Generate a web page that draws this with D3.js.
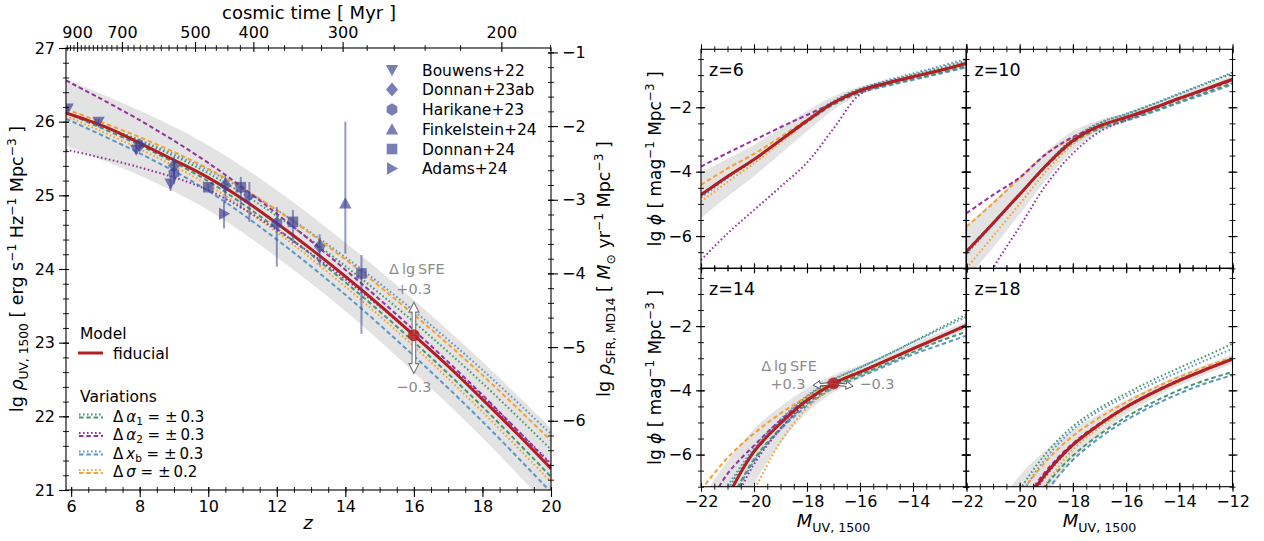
<!DOCTYPE html>
<html><head><meta charset="utf-8">
<script src="https://cdn.jsdelivr.net/npm/d3@7"></script>
<style>
body{margin:0;background:#fff;}
svg text{font-family:"DejaVu Sans",sans-serif;}
</style></head>
<body><svg id="chart" width="1264" height="541"></svg>
<script>
// ================= DATA =================
// Left panel: UV luminosity density vs redshift
const zGrid=[5.85,7,8,9,10,11,12,13,14,15,16,17,18,19,20];
const rhoFiducial=[26.12,25.93,25.71,25.48,25.24,24.95,24.62,24.27,23.90,23.51,23.10,22.68,22.23,21.77,21.29];
const zVar=[5.85,8,10,12,14,16,18,20];
const rhoBandUpper=[26.58,26.15,25.68,25.07,24.36,23.58,22.74,21.84];
const rhoBandLower=[25.67,25.27,24.80,24.16,23.43,22.60,21.71,20.73];
const rhoAlpha1Dashed=[26.12,25.68,25.19,24.55,23.82,23.01,22.13,21.18];
const rhoAlpha1Dotted=[26.12,25.74,25.30,24.72,24.04,23.28,22.45,21.55];
const rhoAlpha2Dashed=[26.56,26.02,25.44,24.75,23.99,23.17,22.29,21.34];
const rhoAlpha2Dotted=[25.62,25.38,25.07,24.53,23.86,23.10,22.27,21.36];
const rhoXbDashed=[26.04,25.57,25.06,24.40,23.65,22.82,21.93,20.97];
const rhoXbDotted=[26.11,25.75,25.34,24.80,24.16,23.43,22.63,21.76];
const rhoSigmaDashed=[26.17,25.79,25.36,24.80,24.13,23.38,22.56,21.67];
const rhoSigmaDotted=[26.08,25.63,25.14,24.50,23.76,22.95,22.06,21.11];

// Observations (z, lg rho_UV, lower err, upper err)
const bouwensZ=[5.9,6.8,7.9,8.9], bouwensRho=[26.18,26.00,25.62,25.16], bouwensLo=[0.04,0.04,0.06,0.10], bouwensHi=[0.04,0.04,0.06,0.10];
const donnan23Z=[8.0,9.0,10.5,13.25], donnan23Rho=[25.68,25.40,25.14,24.31], donnan23Lo=[0.05,0.15,0.25,0.26], donnan23Hi=[0.05,0.12,0.12,0.16];
const harikaneZ=[9.0,12.0], harikaneRho=[25.30,24.62], harikaneLo=[0.15,0.59], harikaneHi=[0.15,0.22];
const finkelsteinZ=[14.0], finkelsteinRho=[24.89], finkelsteinLo=[0.68], finkelsteinHi=[1.11];
const donnan24Z=[10.0,10.95,12.47,14.47], donnan24Rho=[25.11,25.11,24.64,23.94], donnan24Lo=[0.05,0.29,0.29,0.82], donnan24Hi=[0.05,0.14,0.16,0.25];
const adamsZ=[10.46,11.2], adamsRho=[24.75,24.98], adamsLo=[0.20,0.34], adamsHi=[0.16,0.20];
const surveyNames=["Bouwens+22","Donnan+23ab","Harikane+23","Finkelstein+24","Donnan+24","Adams+24"];

// SFE annotation
const sfeZ=16, sfeRho=23.10, sfeRhoUp=23.55, sfeRhoDown=22.58;
const sfeM=-17.0, sfePhi=-3.79, sfeMPlus=-17.77, sfePhiPlus=-3.84, sfeMMinus=-16.26, sfePhiMinus=-3.87;

// Cosmic time axis (Myr)
const timeMajor=[900,700,500,400,300,200];
const timeMinor=[960,940,920,880,860,840,820,800,780,760,740,720,680,660,640,620,600,580,560,540,520,480,460,440,420,380,360,340,320,280,260,240,220,180];

// Right panels: UV luminosity functions, lg phi vs M_UV
const Muv=[-22,-21,-20,-19,-18,-17,-16,-15,-14,-13,-12];
const phi6Fiducial=[-4.72,-4.15,-3.62,-3.02,-2.42,-1.86,-1.48,-1.25,-1.05,-0.86,-0.64];
const phi6BandUpper=[-4.04,-3.60,-3.17,-2.64,-2.12,-1.66,-1.36,-1.15,-0.95,-0.76,-0.54];
const phi6BandLower=[-5.44,-4.77,-4.14,-3.44,-2.75,-2.08,-1.61,-1.35,-1.15,-0.96,-0.74];
const phi6Alpha1Dashed=[-4.72,-4.15,-3.62,-3.03,-2.44,-1.90,-1.53,-1.31,-1.12,-0.93,-0.72];
const phi6Alpha1Dotted=[-4.75,-4.17,-3.63,-3.01,-2.40,-1.83,-1.44,-1.20,-0.99,-0.78,-0.56];
const phi6Alpha2Dashed=[-3.84,-3.42,-3.02,-2.62,-2.24,-1.86,-1.50,-1.26,-1.06,-0.86,-0.65];
const phi6Alpha2Dotted=[-6.74,-5.92,-5.19,-4.47,-3.72,-2.66,-1.60,-1.28,-1.05,-0.85,-0.64];
const phi6XbDashed=[-4.70,-4.14,-3.62,-3.04,-2.46,-1.92,-1.55,-1.34,-1.15,-0.96,-0.76];
const phi6XbDotted=[-4.80,-4.20,-3.63,-3.01,-2.38,-1.80,-1.42,-1.17,-0.95,-0.73,-0.50];
const phi6SigmaDashed=[-4.41,-3.90,-3.45,-2.92,-2.38,-1.85,-1.49,-1.26,-1.05,-0.85,-0.63];
const phi6SigmaDotted=[-4.93,-4.32,-3.74,-3.10,-2.46,-1.88,-1.50,-1.27,-1.07,-0.88,-0.67];

const phi10Fiducial=[-6.48,-5.60,-4.70,-3.80,-3.04,-2.58,-2.31,-2.03,-1.72,-1.43,-1.13];
const phi10BandUpper=[-5.68,-4.92,-4.14,-3.38,-2.74,-2.40,-2.18,-1.91,-1.60,-1.31,-1.01];
const phi10BandLower=[-7.33,-6.36,-5.32,-4.25,-3.34,-2.76,-2.44,-2.15,-1.84,-1.55,-1.25];
const phi10Alpha1Dashed=[-6.47,-5.59,-4.71,-3.82,-3.07,-2.64,-2.39,-2.12,-1.83,-1.54,-1.25];
const phi10Alpha1Dotted=[-6.50,-5.62,-4.72,-3.78,-2.99,-2.50,-2.22,-1.91,-1.59,-1.27,-0.95];
const phi10Alpha2Dashed=[-5.29,-4.72,-4.18,-3.45,-2.92,-2.58,-2.33,-2.05,-1.75,-1.46,-1.17];
const phi10Alpha2Dotted=[-8.60,-7.00,-5.71,-4.40,-3.43,-2.76,-2.40,-2.06,-1.74,-1.44,-1.13];
const phi10XbDashed=[-6.45,-5.58,-4.71,-3.84,-3.10,-2.67,-2.42,-2.15,-1.86,-1.58,-1.29];
const phi10XbDotted=[-6.55,-5.64,-4.72,-3.78,-2.97,-2.48,-2.20,-1.90,-1.57,-1.25,-0.92];
const phi10SigmaDashed=[-5.71,-4.98,-4.20,-3.44,-2.94,-2.58,-2.32,-2.04,-1.74,-1.45,-1.16];
const phi10SigmaDotted=[-7.00,-6.00,-5.00,-3.98,-3.15,-2.66,-2.34,-2.05,-1.74,-1.45,-1.16];

const phi14Fiducial=[-8.80,-7.30,-5.91,-5.03,-4.31,-3.79,-3.43,-3.07,-2.70,-2.34,-1.98];
const phi14BandUpper=[-7.40,-6.20,-5.20,-4.50,-3.94,-3.52,-3.23,-2.91,-2.56,-2.21,-1.86];
const phi14BandLower=[-10.2,-8.50,-6.90,-5.65,-4.68,-4.06,-3.63,-3.23,-2.84,-2.47,-2.10];
const phi14Alpha1Dashed=[-9.00,-7.60,-6.15,-5.18,-4.42,-3.88,-3.52,-3.17,-2.81,-2.47,-2.18];
const phi14Alpha1Dotted=[-8.60,-7.10,-5.86,-4.95,-4.20,-3.67,-3.29,-2.90,-2.49,-2.07,-1.64];
const phi14Alpha2Dashed=[-8.00,-6.60,-5.72,-4.93,-4.29,-3.78,-3.42,-3.07,-2.71,-2.36,-2.01];
const phi14Alpha2Dotted=[-9.50,-7.90,-6.30,-5.20,-4.36,-3.80,-3.43,-3.07,-2.71,-2.35,-1.99];
const phi14XbDashed=[-9.20,-7.70,-6.20,-5.22,-4.48,-3.93,-3.58,-3.23,-2.88,-2.59,-2.30];
const phi14XbDotted=[-8.50,-7.00,-5.80,-4.90,-4.17,-3.65,-3.29,-2.90,-2.50,-2.11,-1.72];
const phi14SigmaDashed=[-7.10,-6.10,-5.34,-4.72,-4.20,-3.75,-3.41,-3.06,-2.70,-2.35,-2.00];
const phi14SigmaDotted=[-10.5,-8.50,-7.10,-5.60,-4.55,-3.90,-3.48,-3.10,-2.73,-2.36,-2.00];

const phi18Fiducial=[-10.6,-9.10,-7.75,-6.58,-5.70,-5.06,-4.52,-4.08,-3.69,-3.35,-3.03];
const phi18BandUpper=[-9.10,-7.80,-6.65,-5.85,-5.22,-4.74,-4.30,-3.90,-3.53,-3.20,-2.88];
const phi18BandLower=[-12.2,-10.5,-8.95,-7.30,-6.15,-5.38,-4.74,-4.26,-3.85,-3.50,-3.18];
const phi18Alpha1Dashed=[-11.2,-9.60,-8.20,-6.95,-6.03,-5.38,-4.83,-4.38,-3.99,-3.68,-3.43];
const phi18Alpha1Dotted=[-10.0,-8.50,-7.10,-5.95,-5.12,-4.55,-4.10,-3.68,-3.30,-2.93,-2.55];
const phi18Alpha2Dashed=[-10.5,-9.00,-7.65,-6.50,-5.65,-5.03,-4.50,-4.06,-3.67,-3.33,-3.01];
const phi18Alpha2Dotted=[-10.8,-9.30,-7.90,-6.65,-5.72,-5.07,-4.53,-4.09,-3.70,-3.36,-3.04];
const phi18XbDashed=[-11.4,-9.80,-8.40,-7.15,-6.17,-5.48,-4.93,-4.48,-4.10,-3.78,-3.53];
const phi18XbDotted=[-10.2,-8.70,-7.30,-6.10,-5.22,-4.63,-4.19,-3.79,-3.42,-3.06,-2.70];
const phi18SigmaDashed=[-10.0,-8.60,-7.25,-6.20,-5.42,-4.85,-4.37,-3.95,-3.58,-3.26,-2.97];
const phi18SigmaDotted=[-11.2,-9.60,-8.20,-6.90,-5.85,-5.15,-4.57,-4.12,-3.73,-3.38,-3.06];

// ================= STYLE / LAYOUT =================
const C={red:'#b41e23',green:'#46966e',purple:'#9632a0',blue:'#5a96c8',orange:'#f5a032',band:'#e3e3e3',pts:'#3b4195',anno:'#8c8c8c'};
const DASH='4.5,2.8', DOT='1.6,2.4';
const CURVE=d3.curveCatmullRom.alpha(0.5);
const svg=d3.select('#chart');
const defs=svg.append('defs');
function clipRect(id,x0,y0,x1,y1){defs.append('clipPath').attr('id',id).append('rect').attr('x',x0).attr('y',y0).attr('width',x1-x0).attr('height',y1-y0);}

function rich(g,parts,size,anchor,subShift){
  const t=g.append('text').attr('font-size',size).attr('text-anchor',anchor||'start').attr('fill','#000');
  let shift=0;
  const sb=subShift==null?0.28:subShift;
  parts.forEach(p=>{
    const txt=p[0], st=p[1]||'';
    const ts=t.append('tspan').text(txt);
    let target=0, fs=size;
    if(st.includes('sub')){target=size*sb;fs=size*0.7;}
    if(st.includes('sup')){target=-size*0.4;fs=size*0.7;}
    if(st.startsWith('i')) ts.attr('font-style','italic');
    if(fs!==size) ts.attr('font-size',fs);
    if(target!==shift){ts.attr('dy',target-shift);shift=target;}
  });
  return t;
}

function addAxis(orient,scale,pos,majors,minors,fmt,showLabels,opt){
  opt=Object.assign({majOut:7,majIn:3,minOut:3,minIn:3,pad:4,fs:16},opt||{});
  const mk={bottom:d3.axisBottom,top:d3.axisTop,left:d3.axisLeft,right:d3.axisRight}[orient];
  const horiz=(orient==='bottom'||orient==='top');
  const tr=horiz?`translate(0,${pos})`:`translate(${pos},0)`;
  const sign=(orient==='bottom'||orient==='right')?-1:1;
  const attr=horiz?'y1':'x1';
  const gMin=svg.append('g').attr('transform',tr).call(mk(scale).tickValues(minors).tickSize(opt.minOut).tickFormat(''));
  gMin.select('.domain').remove();
  gMin.selectAll('.tick line').attr(attr,sign*opt.minIn).attr('stroke','#000').attr('stroke-width',0.9);
  const gMaj=svg.append('g').attr('transform',tr).call(mk(scale).tickValues(majors).tickSize(opt.majOut).tickPadding(opt.pad).tickFormat(showLabels?fmt:()=>''));
  gMaj.select('.domain').remove();
  gMaj.selectAll('.tick line').attr(attr,sign*opt.majIn).attr('stroke','#000').attr('stroke-width',1.1);
  gMaj.attr('font-family','DejaVu Sans').attr('font-size',opt.fs);
  gMaj.selectAll('text').attr('fill','#000');
  return gMaj;
}
const minusFmt=d=>(d<0?'\u2212':'')+Math.abs(d);
function rangeStep(a,b,s){const r=[];for(let v=a;v<=b+1e-9;v+=s)r.push(+v.toFixed(3));return r;}

function markerPath(type){
  switch(type){
    case 'tdown': return 'M-6.2,-5L6.2,-5L0,6.2Z';
    case 'tup': return 'M-6.2,5L6.2,5L0,-6.2Z';
    case 'tright': return 'M-5,-6.2L-5,6.2L6.2,0Z';
    case 'diamond': return 'M0,-7L6,0L0,7L-6,0Z';
    case 'square': return 'M-5.3,-5.3L5.3,-5.3L5.3,5.3L-5.3,5.3Z';
    case 'hex': {const p=[];for(let k=0;k<6;k++){const a=Math.PI/2+k*Math.PI/3;p.push([6.2*Math.cos(a),-6.2*Math.sin(a)]);}return 'M'+p.map(q=>q.map(v=>v.toFixed(2)).join(',')).join('L')+'Z';}
  }
}
function arrowPoly(x1,y1,x2,y2,hl,hw,sw){
  const dx=x2-x1,dy=y2-y1,L=Math.hypot(dx,dy),ux=dx/L,uy=dy/L,px=-uy,py=ux;
  const bx=x2-ux*hl,by=y2-uy*hl;
  const pts=[[x1+px*sw,y1+py*sw],[bx+px*sw,by+py*sw],[bx+px*hw,by+py*hw],[x2,y2],[bx-px*hw,by-py*hw],[bx-px*sw,by-py*sw],[x1-px*sw,y1-py*sw]];
  return 'M'+pts.map(p=>p[0].toFixed(2)+','+p[1].toFixed(2)).join('L')+'Z';
}

// ================= LEFT PANEL =================
const LP={l:66,r:551,t:48,b:490};
const xZ=d3.scaleLinear().domain([5.85,20]).range([LP.l,LP.r]);
const yRho=d3.scaleLinear().domain([21,27]).range([LP.b,LP.t]);
const sfrOffset=27.94;
const ySfr=d3.scaleLinear().domain([21-sfrOffset,27-sfrOffset]).range([LP.b,LP.t]);
const zOfTime=t=>Math.pow(17290/t,2/3)-1; // matter-dominated age-redshift relation

clipRect('clipL',LP.l,LP.t,LP.r,LP.b);
const gL=svg.append('g').attr('clip-path','url(#clipL)');
gL.append('path').datum(zVar)
  .attr('d',d3.area().x(d=>xZ(d)).y0((d,i)=>yRho(rhoBandLower[i])).y1((d,i)=>yRho(rhoBandUpper[i])).curve(CURVE))
  .attr('fill',C.band);
const leftVars=[
  [rhoXbDashed,C.blue,DASH],[rhoXbDotted,C.blue,DOT],
  [rhoSigmaDashed,C.orange,DASH],[rhoSigmaDotted,C.orange,DOT],
  [rhoAlpha1Dashed,C.green,DASH],[rhoAlpha1Dotted,C.green,DOT],
  [rhoAlpha2Dashed,C.purple,DASH],[rhoAlpha2Dotted,C.purple,DOT]];
const lineZ=d3.line().x(d=>xZ(d[0])).y(d=>yRho(d[1])).curve(CURVE);
leftVars.forEach(([arr,col,da])=>{
  gL.append('path').datum(zVar.map((z,i)=>[z,arr[i]])).attr('d',lineZ)
    .attr('fill','none').attr('stroke',col).attr('stroke-width',2).attr('stroke-dasharray',da);
});
gL.append('path').datum(zGrid.map((z,i)=>[z,rhoFiducial[i]])).attr('d',lineZ)
  .attr('fill','none').attr('stroke',C.red).attr('stroke-width',3);

// observations
const surveys=[
  [bouwensZ,bouwensRho,bouwensLo,bouwensHi,'tdown'],
  [donnan23Z,donnan23Rho,donnan23Lo,donnan23Hi,'diamond'],
  [harikaneZ,harikaneRho,harikaneLo,harikaneHi,'hex'],
  [finkelsteinZ,finkelsteinRho,finkelsteinLo,finkelsteinHi,'tup'],
  [donnan24Z,donnan24Rho,donnan24Lo,donnan24Hi,'square'],
  [adamsZ,adamsRho,adamsLo,adamsHi,'tright']];
const gObs=svg.append('g').attr('clip-path','url(#clipL)');
surveys.forEach(([zs,rs,lo,hi,m])=>{
  zs.forEach((z,i)=>{
    gObs.append('line').attr('x1',xZ(z)).attr('x2',xZ(z)).attr('y1',yRho(rs[i]-lo[i])).attr('y2',yRho(rs[i]+hi[i]))
      .attr('stroke',C.pts).attr('stroke-width',2).attr('stroke-opacity',0.55);
    gObs.append('path').attr('d',markerPath(m)).attr('transform',`translate(${xZ(z)},${yRho(rs[i])})`)
      .attr('fill',C.pts).attr('fill-opacity',0.68);
  });
});

// SFE annotation (left)
const ax=xZ(sfeZ), ay=yRho(sfeRho);
svg.append('path').attr('d',arrowPoly(ax,ay,ax,yRho(sfeRhoUp),10,5,1.8)).attr('fill','#fff').attr('stroke','#777').attr('stroke-width',1.1);
svg.append('path').attr('d',arrowPoly(ax,ay,ax,yRho(sfeRhoDown),10,5,1.8)).attr('fill','#fff').attr('stroke','#777').attr('stroke-width',1.1);
svg.append('circle').attr('cx',ax).attr('cy',ay).attr('r',6).attr('fill',C.red).attr('fill-opacity',0.85);
svg.append('text').attr('x',ax+3).attr('y',yRho(sfeRhoUp)-28).attr('text-anchor','middle').attr('font-size',14.5).attr('fill',C.anno).text('\u0394\u2009lg\u2009SFE');
svg.append('text').attr('x',ax).attr('y',yRho(sfeRhoUp)-8).attr('text-anchor','middle').attr('font-size',14.5).attr('fill',C.anno).text('+0.3');
svg.append('text').attr('x',ax).attr('y',yRho(sfeRhoDown)+18).attr('text-anchor','middle').attr('font-size',14.5).attr('fill',C.anno).text('\u22120.3');

// spines
svg.append('rect').attr('x',LP.l).attr('y',LP.t).attr('width',LP.r-LP.l).attr('height',LP.b-LP.t).attr('fill','none').attr('stroke','#000').attr('stroke-width',1.1);

// axes
addAxis('bottom',xZ,LP.b,rangeStep(6,20,2),rangeStep(6,20,0.5),d3.format('d'),true);
addAxis('left',yRho,LP.l,rangeStep(21,27,1),rangeStep(21,27,0.2),d3.format('d'),true);
addAxis('right',ySfr,LP.r,[-1,-2,-3,-4,-5,-6],rangeStep(-6.8,-1,0.2),minusFmt,true);
addAxis('top',xZ,LP.t,timeMajor.map(zOfTime),timeMinor.map(zOfTime).filter(z=>z>=5.85&&z<=20),(d,i)=>timeMajor[i],true,{majOut:6,majIn:4});

// axis labels
svg.append('text').attr('x',309).attr('y',19).attr('text-anchor','middle').attr('font-size',18).text('cosmic time [ Myr ]');
rich(svg.append('g').attr('transform','translate(308,529)'),[['z','i']],18,'middle');
rich(svg.append('g').attr('transform','translate(23,269) rotate(-90)'),
  [['lg '],['\u03c1','i'],['UV, 1500','sub'],[' [ erg s'],['\u22121','sup'],[' Hz'],['\u22121','sup'],[' Mpc'],['\u22123','sup'],[' ]']],17.5,'middle');
rich(svg.append('g').attr('transform','translate(610,269) rotate(-90)'),
  [['lg '],['\u03c1','i'],['SFR, MD14','sub'],[' [ '],['M','i'],['\u2299','sub'],[' yr'],['\u22121','sup'],[' Mpc'],['\u22123','sup'],[' ]']],17.5,'middle');

// legend: observations
const legY=[70,89.5,109.5,129.5,149,168.5];
surveys.forEach((s,i)=>{
  svg.append('path').attr('d',markerPath(s[4])).attr('transform',`translate(392,${legY[i]})`).attr('fill',C.pts).attr('fill-opacity',0.68);
  svg.append('text').attr('x',422).attr('y',legY[i]).attr('dy','0.36em').attr('font-size',15.5).text(surveyNames[i]);
});
// legend: model
svg.append('text').attr('x',80).attr('y',333).attr('dy','0.36em').attr('font-size',15.5).text('Model');
svg.append('line').attr('x1',78).attr('x2',103).attr('y1',353).attr('y2',353).attr('stroke',C.red).attr('stroke-width',3);
svg.append('text').attr('x',113).attr('y',353).attr('dy','0.36em').attr('font-size',15.5).text('fiducial');
svg.append('text').attr('x',80).attr('y',396).attr('dy','0.36em').attr('font-size',15.5).text('Variations');
const varLeg=[
  [C.green,[['\u0394\u2009'],['\u03b1','i'],['1','sub'],[' = \u00b1\u20090.3']]],
  [C.purple,[['\u0394\u2009'],['\u03b1','i'],['2','sub'],[' = \u00b1\u20090.3']]],
  [C.blue,[['\u0394\u2009'],['x','i'],['b','sub'],[' = \u00b1\u20090.3']]],
  [C.orange,[['\u0394\u2009'],['\u03c3','i'],[' = \u00b1\u20090.2']]]];
const varY=[416,434.5,453,471.5];
varLeg.forEach(([col,parts],i)=>{
  const y=varY[i];
  svg.append('line').attr('x1',79).attr('x2',103).attr('y1',y-1.5).attr('y2',y-1.5).attr('stroke',col).attr('stroke-width',2).attr('stroke-dasharray',DOT);
  svg.append('line').attr('x1',79).attr('x2',103).attr('y1',y+1.5).attr('y2',y+1.5).attr('stroke',col).attr('stroke-width',2).attr('stroke-dasharray',DASH);
  rich(svg.append('g').attr('transform',`translate(113,${y+5.5})`),parts,15,'start',0.2);
});

// ================= RIGHT PANELS =================
const cols=[[701,966],[966.5,1232.5]];
const rows=[[49.3,268.3],[268.3,486.7]];
const panels=[
  {label:'z=6',c:0,r:0,fid:phi6Fiducial,up:phi6BandUpper,lo:phi6BandLower,vars:[phi6XbDashed,phi6XbDotted,phi6SigmaDashed,phi6SigmaDotted,phi6Alpha1Dashed,phi6Alpha1Dotted,phi6Alpha2Dashed,phi6Alpha2Dotted]},
  {label:'z=10',c:1,r:0,fid:phi10Fiducial,up:phi10BandUpper,lo:phi10BandLower,vars:[phi10XbDashed,phi10XbDotted,phi10SigmaDashed,phi10SigmaDotted,phi10Alpha1Dashed,phi10Alpha1Dotted,phi10Alpha2Dashed,phi10Alpha2Dotted]},
  {label:'z=14',c:0,r:1,fid:phi14Fiducial,up:phi14BandUpper,lo:phi14BandLower,vars:[phi14XbDashed,phi14XbDotted,phi14SigmaDashed,phi14SigmaDotted,phi14Alpha1Dashed,phi14Alpha1Dotted,phi14Alpha2Dashed,phi14Alpha2Dotted]},
  {label:'z=18',c:1,r:1,fid:phi18Fiducial,up:phi18BandUpper,lo:phi18BandLower,vars:[phi18XbDashed,phi18XbDotted,phi18SigmaDashed,phi18SigmaDotted,phi18Alpha1Dashed,phi18Alpha1Dotted,phi18Alpha2Dashed,phi18Alpha2Dotted]}];
const varStyles=[[C.blue,DASH],[C.blue,DOT],[C.orange,DASH],[C.orange,DOT],[C.green,DASH],[C.green,DOT],[C.purple,DASH],[C.purple,DOT]];

panels.forEach((p,pi)=>{
  const [x0,x1]=cols[p.c],[y0,y1]=rows[p.r];
  const xs=d3.scaleLinear().domain([-22,-12]).range([x0,x1]);
  const ys=d3.scaleLinear().domain([-7,-0.2]).range([y1,y0]);
  const cid='clipP'+pi;
  clipRect(cid,x0,y0,x1,y1);
  const g=svg.append('g').attr('clip-path',`url(#${cid})`);
  g.append('path').datum(Muv).attr('d',d3.area().x(d=>xs(d)).y0((d,i)=>ys(p.lo[i])).y1((d,i)=>ys(p.up[i])).curve(CURVE)).attr('fill',C.band);
  const ln=d3.line().x(d=>xs(d[0])).y(d=>ys(d[1])).curve(CURVE);
  p.vars.forEach((arr,k)=>{
    g.append('path').datum(Muv.map((m,i)=>[m,arr[i]])).attr('d',ln).attr('fill','none')
      .attr('stroke',varStyles[k][0]).attr('stroke-width',2).attr('stroke-dasharray',varStyles[k][1]);
  });
  g.append('path').datum(Muv.map((m,i)=>[m,p.fid[i]])).attr('d',ln).attr('fill','none').attr('stroke',C.red).attr('stroke-width',3);

  if(p.label==='z=14'){
    const cx=xs(sfeM),cy=ys(sfePhi);
    svg.append('path').attr('d',arrowPoly(cx,cy,xs(sfeMPlus),ys(sfePhiPlus),7,4,1.2)).attr('fill','#fff').attr('stroke','#555').attr('stroke-width',1);
    svg.append('path').attr('d',arrowPoly(cx,cy,xs(sfeMMinus),ys(sfePhiMinus),7,4,1.2)).attr('fill','#fff').attr('stroke','#555').attr('stroke-width',1);
    svg.append('circle').attr('cx',cx).attr('cy',cy).attr('r',6).attr('fill',C.red).attr('fill-opacity',0.85);
    svg.append('text').attr('x',789).attr('y',366).attr('dy','0.36em').attr('text-anchor','middle').attr('font-size',14.5).attr('fill',C.anno).text('\u0394\u2009lg\u2009SFE');
    svg.append('text').attr('x',788).attr('y',384).attr('dy','0.36em').attr('text-anchor','middle').attr('font-size',14.5).attr('fill',C.anno).text('+0.3');
    svg.append('text').attr('x',877).attr('y',384).attr('dy','0.36em').attr('text-anchor','middle').attr('font-size',14.5).attr('fill',C.anno).text('\u22120.3');
  }

  svg.append('rect').attr('x',x0).attr('y',y0).attr('width',x1-x0).attr('height',y1-y0).attr('fill','none').attr('stroke','#000').attr('stroke-width',1.1);
  const xMaj=p.c===0?rangeStep(-22,-14,2):rangeStep(-22,-12,2);
  const o={majOut:5,majIn:4,minOut:3,minIn:3,pad:4};
  addAxis('bottom',xs,y1,xMaj,rangeStep(-22,-12,0.5),minusFmt,p.r===1,o);
  addAxis('top',xs,y0,rangeStep(-22,-12,2),rangeStep(-22,-12,0.5),minusFmt,false,o);
  addAxis('left',ys,x0,[-2,-4,-6],rangeStep(-7,-0.5,0.5),minusFmt,p.c===0,o);
  addAxis('right',ys,x1,[-2,-4,-6],rangeStep(-7,-0.5,0.5),minusFmt,false,o);
  svg.append('text').attr('x',x0+8).attr('y',y0+20).attr('dy','0.36em').attr('font-size',17.5).text(p.label);
  if(p.r===1){
    rich(svg.append('g').attr('transform',`translate(${(x0+x1)/2},${y1+40})`),[['M','i'],['UV, 1500','sub']],18,'middle');
  }
  if(p.c===0){
    rich(svg.append('g').attr('transform',`translate(661,${(y0+y1)/2}) rotate(-90)`),
      [['lg '],['\u03d5','i'],[' [ mag'],['\u22121','sup'],[' Mpc'],['\u22123','sup'],[' ]']],17,'middle');
  }
});
</script></body></html>
